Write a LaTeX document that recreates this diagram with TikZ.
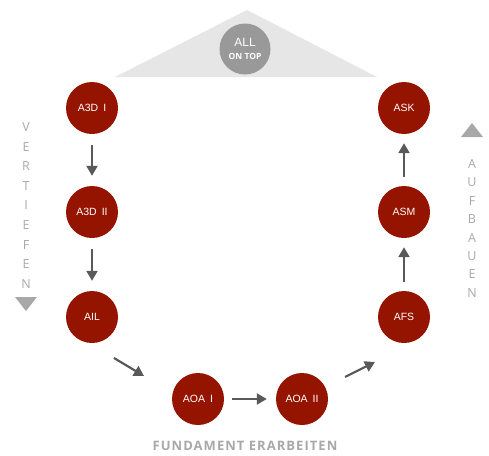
\documentclass[tikz,border=0pt]{standalone}
\usepackage{fontspec}
\setmainfont{Open Sans}
\newfontfamily\helv{Liberation Sans}
\usetikzlibrary{arrows.meta,calc}
\definecolor{red1}{HTML}{951400}
\definecolor{arr}{HTML}{595959}
\definecolor{lgray}{HTML}{A8A8A8}
\definecolor{roof}{HTML}{E6E6E6}
\definecolor{allgray}{HTML}{999999}
\begin{document}
\begin{tikzpicture}[x=1pt,y=-1pt,
  station/.style={circle,fill=red1,minimum size=52pt,inner sep=0pt,text=white,font=\helv\fontsize{10.5}{12}\selectfont},
  link/.style={draw=arr,line width=2.2pt,-{Triangle[length=10pt,width=11pt]}},
  side/.style={text=lgray,font=\fontsize{12.5}{14}\selectfont,inner sep=0pt}]
\useasboundingbox (0,0) rectangle (489,455);
\fill[roof] (115,77) -- (247,10) -- (377,77) -- cycle;
\node[circle,fill=allgray,minimum size=51pt,inner sep=0pt,text=white,align=center] (all) at (245,49)
  {\helv\fontsize{12}{12}\selectfont ALL\\[1pt]\fontsize{8.5}{9}\selectfont\bfseries ON TOP};
\node[station] (a3d1) at (92,108) {A3D\hspace{5pt}I};
\node[station] (a3d2) at (92,212) {A3D\hspace{5pt}II};
\node[station] (ail) at (92,317) {AIL};
\node[station] (aoa1) at (198,399) {AOA\hspace{5pt}I};
\node[station] (aoa2) at (302,399) {AOA\hspace{5pt}II};
\node[station] (afs) at (404,317) {AFS};
\node[station] (asm) at (404,212) {ASM};
\node[station] (ask) at (404,108) {ASK};
\draw[link,shorten <=11pt,shorten >=10pt] (a3d1) -- (a3d2);
\draw[link,shorten <=11pt,shorten >=10pt] (a3d2) -- (ail);
\draw[link] ($(ail)+(22,41)$) -- ($(aoa1)+(-54,-23)$);
\draw[link,shorten <=8pt,shorten >=9pt] (aoa1) -- (aoa2);
\draw[link] ($(aoa2)+(43,-22)$) -- ($(afs)+(-29,45)$);
\draw[link,shorten <=9pt,shorten >=9pt] (afs) -- (asm);
\draw[link,shorten <=9pt,shorten >=9pt] (asm) -- (ask);
% Vertiefen
\foreach \l [count=\i from 0] in {V,E,R,T,I,E,F,E,N}
  \node[side] (v\i) at (26,{127+19.6*\i}) {\l};
\fill[lgray] (15,297) -- (37,297) -- (26,311) -- cycle;
% Aufbauen
\fill[lgray] (461,137) -- (483,137) -- (472,123) -- cycle;
\foreach \l [count=\i from 0] in {A,U,F,B,A,U,E,N}
  \node[side] (u\i) at (472,{164+18.4*\i}) {\l};
\node[text=lgray,font=\fontsize{13}{14}\selectfont\addfontfeature{LetterSpace=8}\bfseries,inner sep=0pt] (fund) at (245,446) {FUNDAMENT ERARBEITEN};
\end{tikzpicture}
\end{document}
